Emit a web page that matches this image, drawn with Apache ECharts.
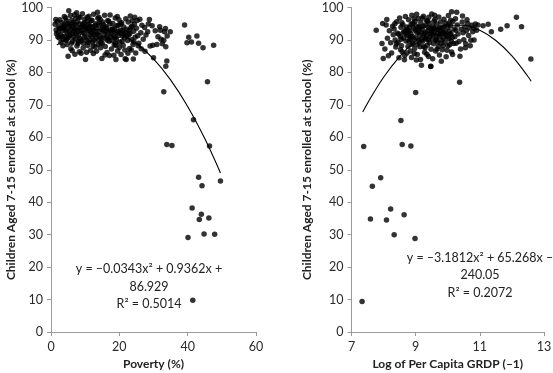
<!DOCTYPE html>
<html>
<head>
<meta charset="utf-8">
<script src="https://cdn.jsdelivr.net/npm/echarts@6/dist/echarts.min.js"></script>
<style>
html,body{margin:0;padding:0;background:#fff;}
#chart{width:553px;height:373px;}
</style>
</head>
<body>
<div id="chart"></div>
<script>
// ---- Left panel: Poverty (%) vs enrolment ----
const povertyCluster = [
[1.2,94.8],[1.5,93.1],[1.8,95.6],[2.1,92.4],[2.3,94.1],[2.6,96.2],[2.8,91.5],[3.0,93.7],[1.6,91.9],[2.4,90.6],[3.2,95.3],[2.9,89.2],[1.4,96.3],[3.4,92.8],[3.6,90.1],
[3.8,94.6],[4.1,91.2],[4.3,96.8],[4.5,93.3],[4.7,88.6],[4.9,95.1],[5.1,90.7],[5.2,99.0],[5.4,92.5],[5.6,94.2],[5.8,87.3],[6.0,96.0],[6.1,91.8],[6.3,89.5],[6.5,93.9],[3.9,97.2],[4.4,89.8],[5.0,85.0],[5.7,97.5],[6.4,95.4],[4.8,92.0],[3.5,88.2],[6.2,86.7],[5.3,94.7],[4.2,93.0],
[6.7,92.6],[6.9,97.8],[7.1,90.3],[7.3,94.5],[7.5,98.4],[7.6,88.1],[7.8,95.8],[8.0,91.4],[8.2,93.6],[8.3,86.4],[8.5,96.9],[8.7,89.7],[8.9,94.0],[9.1,92.2],[9.2,98.1],[9.4,87.5],[9.6,95.2],[9.8,90.8],[10.0,93.4],[7.0,85.6],[7.4,91.9],[8.1,97.1],[8.8,85.9],[9.5,89.0],[9.9,96.4],[7.9,88.9],[6.8,94.9],[8.6,92.9],[9.3,94.8],[7.2,96.6],[10.1,84.0],[8.4,90.5],
[10.3,91.1],[10.5,95.7],[10.7,88.3],[10.9,93.8],[11.1,97.3],[11.2,90.0],[11.4,94.3],[11.6,86.8],[11.8,92.4],[12.0,96.1],[12.2,89.4],[12.3,93.1],[12.5,97.9],[12.7,91.6],[12.9,87.9],[13.1,95.0],[13.2,90.6],[13.4,93.5],[13.6,98.5],[13.8,88.7],[14.0,94.6],[10.4,86.2],[11.0,89.2],[11.7,95.9],[12.4,85.8],[13.0,92.2],[13.7,96.7],[10.8,92.7],[12.1,94.0],[11.5,91.5],[13.3,86.5],[10.6,97.0],
[14.2,91.3],[14.4,96.3],[14.6,89.1],[14.8,93.2],[14.9,84.3],[15.1,95.5],[15.3,90.4],[15.5,92.8],[15.7,97.6],[15.9,88.0],[16.1,94.1],[16.3,91.0],[16.4,86.1],[16.6,96.0],[16.8,92.3],[17.0,89.6],[17.2,94.9],[17.3,97.7],[17.5,90.9],[17.7,87.2],[17.9,93.4],[14.5,87.6],[15.2,93.9],[15.8,85.4],[16.5,89.9],[17.1,85.2],[14.1,95.2],[16.9,95.8],[15.6,91.7],[17.6,92.1],
[18.1,95.1],[18.3,91.4],[18.5,88.5],[18.6,93.6],[18.8,96.8],[19.0,84.0],[19.1,90.2],[19.3,94.4],[19.5,86.6],[19.7,92.6],[19.9,96.2],[20.1,89.3],[20.3,93.0],[20.5,85.5],[20.7,95.3],[20.9,91.2],[21.1,88.4],[21.3,94.0],[21.5,90.6],[21.7,84.2],[21.9,96.5],[18.4,85.3],[19.4,97.2],[20.0,87.7],[21.0,92.8],[21.6,86.9],[18.9,89.0],[20.6,91.9],[19.8,94.6],[21.8,92.3],[22.0,84.0],
[22.2,93.3],[22.4,89.8],[22.6,95.5],[22.8,91.6],[23.0,87.4],[23.2,97.4],[23.4,93.9],[23.6,90.1],[23.8,95.9],[24.0,88.6],[24.2,92.7],[24.4,94.8],[24.6,90.8],[24.8,86.0],[25.0,93.6],[25.2,96.0],[25.4,91.3],[25.7,89.0],[26.0,96.4],[26.3,92.2],[26.6,94.5],[22.5,85.9],[23.5,86.9],[24.5,97.0],[25.5,88.2],[26.4,87.3],[22.9,93.0],[24.1,84.1],
[27.0,90.2],[27.4,93.8],[27.8,91.5],[28.3,92.5],[28.5,94.9],[29.0,88.1],[29.6,94.4],[29.8,88.4],[30.0,84.5],[30.5,92.8],[31.0,88.6],[31.3,91.0],[31.8,94.1],[32.2,90.2],[32.6,88.8],[33.2,92.5],[33.6,87.9],[33.0,89.9],[34.9,92.5],[34.0,91.2],[32.0,93.0],[27.5,86.5],[28.8,96.3],[33.5,93.5],
[2.5,93.5],[3.3,91.0],[4.0,94.4],[4.6,90.2],[5.5,91.3],[6.6,90.9],[7.7,93.0],[8.4,94.9],[9.0,90.0],[9.7,92.0],[10.2,94.1],[11.3,92.8],[12.6,89.9],[12.8,94.4],[13.5,91.8],[14.3,92.5],[14.7,90.6],[15.4,94.7],[16.0,92.6],[16.7,90.5],[17.4,93.1],[18.2,92.9],[18.7,90.7],[19.6,91.3],[20.4,94.9],[20.8,89.6],[21.4,91.8],[22.3,91.2],[23.1,92.1],[23.7,94.2],[24.3,89.4],[3.7,93.9],[5.9,93.3],[7.0,93.2],[9.8,93.9],[11.9,91.0],[13.9,90.1],[16.2,93.5],[17.8,89.8],[19.2,92.2],[6.0,89.0],[8.0,89.5],[10.5,89.7],[12.3,88.1],[15.0,88.9],[19.0,88.3],[2.0,91.0],[4.5,95.9],[11.0,94.8],[14.0,97.0]
];
const povertyOutliers = [
[33.9,57.8],[35.4,57.5],[46.4,57.3],[49.6,46.5],[43.2,47.7],[44.2,45.1],[41.3,38.2],[44.0,36.3],[43.4,34.7],[46.2,35.1],[40.1,29.1],[44.8,30.2],[47.9,30.1],[41.5,9.8],[41.7,65.4],[33.0,74.0],[45.8,77.1],[33.9,83.5],[33.6,81.9],[39.1,94.6],[40.3,90.8],[41.1,89.4],[39.8,89.1],[42.7,91.2],[43.2,89.0],[44.5,87.6],[47.6,88.4]
];
const povertyTrend = [[1.7,88.42],[5,90.75],[10,92.86],[15,93.25],[20,91.93],[25,88.90],[30,84.15],[35,77.68],[40,69.50],[45,59.60],[49.6,48.99]];
const povertyTicks = [0, 20, 40, 60];
const povertyEquation = ['y = –0.0343x² + 0.9362x +', '86.929', 'R² = 0.5014'];

// ---- Right panel: Log of per capita GRDP vs enrolment ----
const grdpCluster = [
[7.77,93.0],[7.97,95.1],[8.08,94.6],[7.95,88.9],[7.99,84.3],[8.04,87.2],[8.12,90.5],[8.18,92.8],[8.22,89.1],[8.25,86.0],[8.28,94.2],[8.15,85.1],[8.30,91.6],[8.10,96.3],
[8.33,93.4],[8.36,90.0],[8.38,87.8],[8.41,95.6],[8.43,92.1],[8.45,89.3],[8.48,84.5],[8.50,96.8],[8.52,91.0],[8.54,93.9],[8.56,88.2],[8.58,86.4],[8.60,94.7],[8.62,90.6],[8.64,92.6],[8.66,85.2],[8.68,97.2],[8.70,89.7],[8.35,95.0],[8.47,91.8],[8.57,95.3],[8.69,93.1],[8.40,88.8],[8.53,87.0],[8.65,83.9],
[8.72,94.0],[8.74,91.4],[8.76,88.0],[8.78,96.2],[8.80,92.7],[8.82,90.2],[8.84,86.6],[8.86,94.8],[8.88,97.6],[8.90,91.1],[8.92,89.0],[8.94,93.5],[8.96,85.8],[8.98,95.7],[9.00,90.7],[9.02,83.8],[9.04,92.3],[9.06,88.6],[9.08,96.6],[9.10,94.1],[8.73,86.0],[8.79,89.5],[8.85,92.0],[8.91,95.1],[8.97,87.4],[9.03,97.9],[9.09,90.0],[8.81,93.9],[8.99,93.0],[8.87,84.6],[9.05,85.5],
[9.12,91.5],[9.14,87.9],[9.16,95.4],[9.18,82.2],[9.20,93.3],[9.22,89.6],[9.24,97.3],[9.26,91.9],[9.28,86.2],[9.30,94.5],[9.32,90.4],[9.34,96.0],[9.36,88.4],[9.38,92.8],[9.40,84.9],[9.42,95.2],[9.44,90.9],[9.46,93.7],[9.48,87.1],[9.50,98.0],[9.13,93.8],[9.19,90.1],[9.25,88.0],[9.31,92.4],[9.37,95.8],[9.43,89.2],[9.49,92.0],[9.15,84.0],[9.35,85.6],[9.21,96.8],[9.41,97.0],[9.47,81.8],
[9.52,90.3],[9.54,94.3],[9.56,88.8],[9.58,92.5],[9.60,96.3],[9.62,86.6],[9.64,91.2],[9.66,94.9],[9.68,89.4],[9.70,93.2],[9.72,97.1],[9.74,85.4],[9.76,91.7],[9.78,95.5],[9.80,83.4],[9.82,90.0],[9.84,93.6],[9.86,88.2],[9.88,96.4],[9.90,92.1],[9.53,84.2],[9.59,97.6],[9.65,90.0],[9.71,88.0],[9.77,92.9],[9.83,87.0],[9.89,94.2],[9.61,93.4],[9.73,91.0],[9.57,95.8],
[9.92,89.4],[9.94,95.2],[9.96,91.3],[9.98,86.8],[10.00,93.8],[10.02,97.5],[10.04,90.4],[10.06,88.5],[10.08,94.4],[10.10,92.0],[10.12,98.7],[10.12,86.3],[10.14,90.8],[10.16,95.7],[10.18,88.9],[10.20,93.4],[10.22,91.0],[10.24,96.5],[10.26,89.0],[10.28,98.5],[9.95,84.8],[10.05,92.6],[10.15,85.5],[10.25,93.0],[10.09,96.1],[10.01,88.2],
[10.30,94.6],[10.32,91.8],[10.35,89.5],[10.40,87.2],[10.42,93.3],[10.45,95.5],[10.48,92.2],[10.50,90.1],[10.53,94.0],[10.56,88.8],[10.58,92.8],[10.62,95.1],[10.65,91.4],[10.68,93.7],[10.72,89.9],[10.75,94.5],[10.78,92.5],[10.82,90.0],[10.82,93.6],[10.86,94.9],[10.90,93.0],[10.94,94.6],[10.38,85.0],[10.55,87.6],[10.60,96.2],[10.70,88.2],[10.46,97.4],
[8.75,92.9],[8.83,91.0],[8.93,90.4],[9.01,94.3],[9.07,92.7],[9.11,89.1],[9.17,92.2],[9.23,94.2],[9.27,90.6],[9.33,91.2],[9.39,90.0],[9.45,91.8],[9.51,93.0],[9.55,91.6],[9.63,89.9],[9.69,92.0],[9.75,93.9],[9.81,91.9],[9.87,90.6],[9.93,92.5],[9.99,90.9],[10.07,91.7],[8.89,88.6],[9.29,87.6],[9.67,87.2],[8.71,91.8],[8.95,96.5],[9.39,93.9],[9.79,89.0],[10.03,94.9],[8.61,92.2],[8.55,90.2],[9.57,93.6],[9.85,92.4],[10.11,89.6]
];
const grdpOutliers = [
[11.10,94.4],[11.26,94.8],[11.36,92.5],[11.65,93.3],[11.85,94.4],[12.14,97.0],[12.30,94.1],[12.59,84.1],[10.37,77.0],
[7.38,57.2],[8.58,57.8],[8.85,57.3],[7.91,47.5],[7.65,44.9],[8.22,37.9],[8.64,36.1],[7.59,34.8],[8.09,34.5],[8.33,30.0],[8.98,28.8],[7.33,9.4],[8.54,65.2],[9.00,73.8],[9.47,81.9]
];
const grdpTrend = [[7.35,67.81],[7.5,70.52],[8,78.49],[8.5,84.89],[9,89.68],[9.5,92.90],[10,94.51],[10.5,94.53],[11,92.97],[11.5,89.82],[12,85.08],[12.5,78.74],[12.6,77.28]];
const grdpTicks = [7, 9, 11, 13];
const grdpEquation = ['y = –3.1812x² + 65.268x –', '240.05', 'R² = 0.2072'];

const enrolTicks = [0, 10, 20, 30, 40, 50, 60, 70, 80, 90, 100];
const yTitle = 'Children Aged 7-15 enrolled at school (%)';

const FONT = 'Lato';
const axisGray = '#9a9a9a';
const labelColor = '#2a2a2a';

function yAxisCfg(gridIndex, gap) {
  return {
    gridIndex, type: 'value', min: enrolTicks[0], max: enrolTicks[enrolTicks.length - 1],
    interval: enrolTicks[1] - enrolTicks[0],
    name: yTitle, nameLocation: 'middle', nameGap: gap,
    nameTextStyle: { fontFamily: FONT, fontWeight: 'bold', fontSize: 12, color: '#222' },
    axisLine: { show: true, lineStyle: { color: axisGray, width: 1 } },
    axisTick: { show: true, length: 4, lineStyle: { color: axisGray } },
    axisLabel: { fontFamily: FONT, fontSize: 12.5, color: labelColor, margin: 8 },
    splitLine: { show: false }
  };
}
function xAxisCfg(gridIndex, ticks, name, gap) {
  return {
    gridIndex, type: 'value', min: ticks[0], max: ticks[ticks.length - 1],
    interval: ticks[1] - ticks[0],
    name, nameLocation: 'middle', nameGap: gap,
    nameTextStyle: { fontFamily: FONT, fontWeight: 'bold', fontSize: 12, color: '#222' },
    axisLine: { show: true, onZero: false, lineStyle: { color: axisGray, width: 1 } },
    axisTick: { show: true, length: 4, lineStyle: { color: axisGray } },
    axisLabel: { fontFamily: FONT, fontSize: 12.5, color: labelColor, margin: 8 },
    splitLine: { show: false }
  };
}
function eqText(lines, cx, y0, dy) {
  return lines.map((t, i) => ({
    type: 'text', x: cx, y: y0 + i * dy,
    style: { text: t, fontFamily: FONT, fontSize: 12.5, fill: '#222', align: 'center', verticalAlign: 'middle' }
  }));
}

const chart = echarts.init(document.getElementById('chart'), null, { renderer: 'canvas' });
const dot = { symbol: 'circle', symbolSize: 5.5, itemStyle: { color: '#000' } };
chart.setOption({
  animation: false,
  backgroundColor: '#fff',
  grid: [
    { left: 51, top: 7.5, width: 205, height: 324.5, containLabel: false, outerBoundsMode: 'none' },
    { left: 351.5, top: 7.5, width: 192.5, height: 324.5, containLabel: false, outerBoundsMode: 'none' }
  ],
  xAxis: [
    xAxisCfg(0, povertyTicks, 'Poverty (%)', 24),
    xAxisCfg(1, grdpTicks, 'Log of Per Capita GRDP (–1)', 22)
  ],
  yAxis: [ yAxisCfg(0, 33), yAxisCfg(1, 38) ],
  series: [
    Object.assign({ type: 'scatter', xAxisIndex: 0, yAxisIndex: 0, data: povertyCluster.concat(povertyOutliers) }, dot),
    { type: 'line', xAxisIndex: 0, yAxisIndex: 0, data: povertyTrend, smooth: 0.4, showSymbol: false, symbol: 'none',
      lineStyle: { color: '#000', width: 1.1 }, z: 3 },
    Object.assign({ type: 'scatter', xAxisIndex: 1, yAxisIndex: 1, data: grdpCluster.concat(grdpOutliers) }, dot),
    { type: 'line', xAxisIndex: 1, yAxisIndex: 1, data: grdpTrend, smooth: 0.4, showSymbol: false, symbol: 'none',
      lineStyle: { color: '#000', width: 1.1 }, z: 3 }
  ],
  graphic: eqText(povertyEquation, 149, 269, 17.5).concat(eqText(grdpEquation, 480, 257.5, 17.5))
});
</script>
</body>
</html>
